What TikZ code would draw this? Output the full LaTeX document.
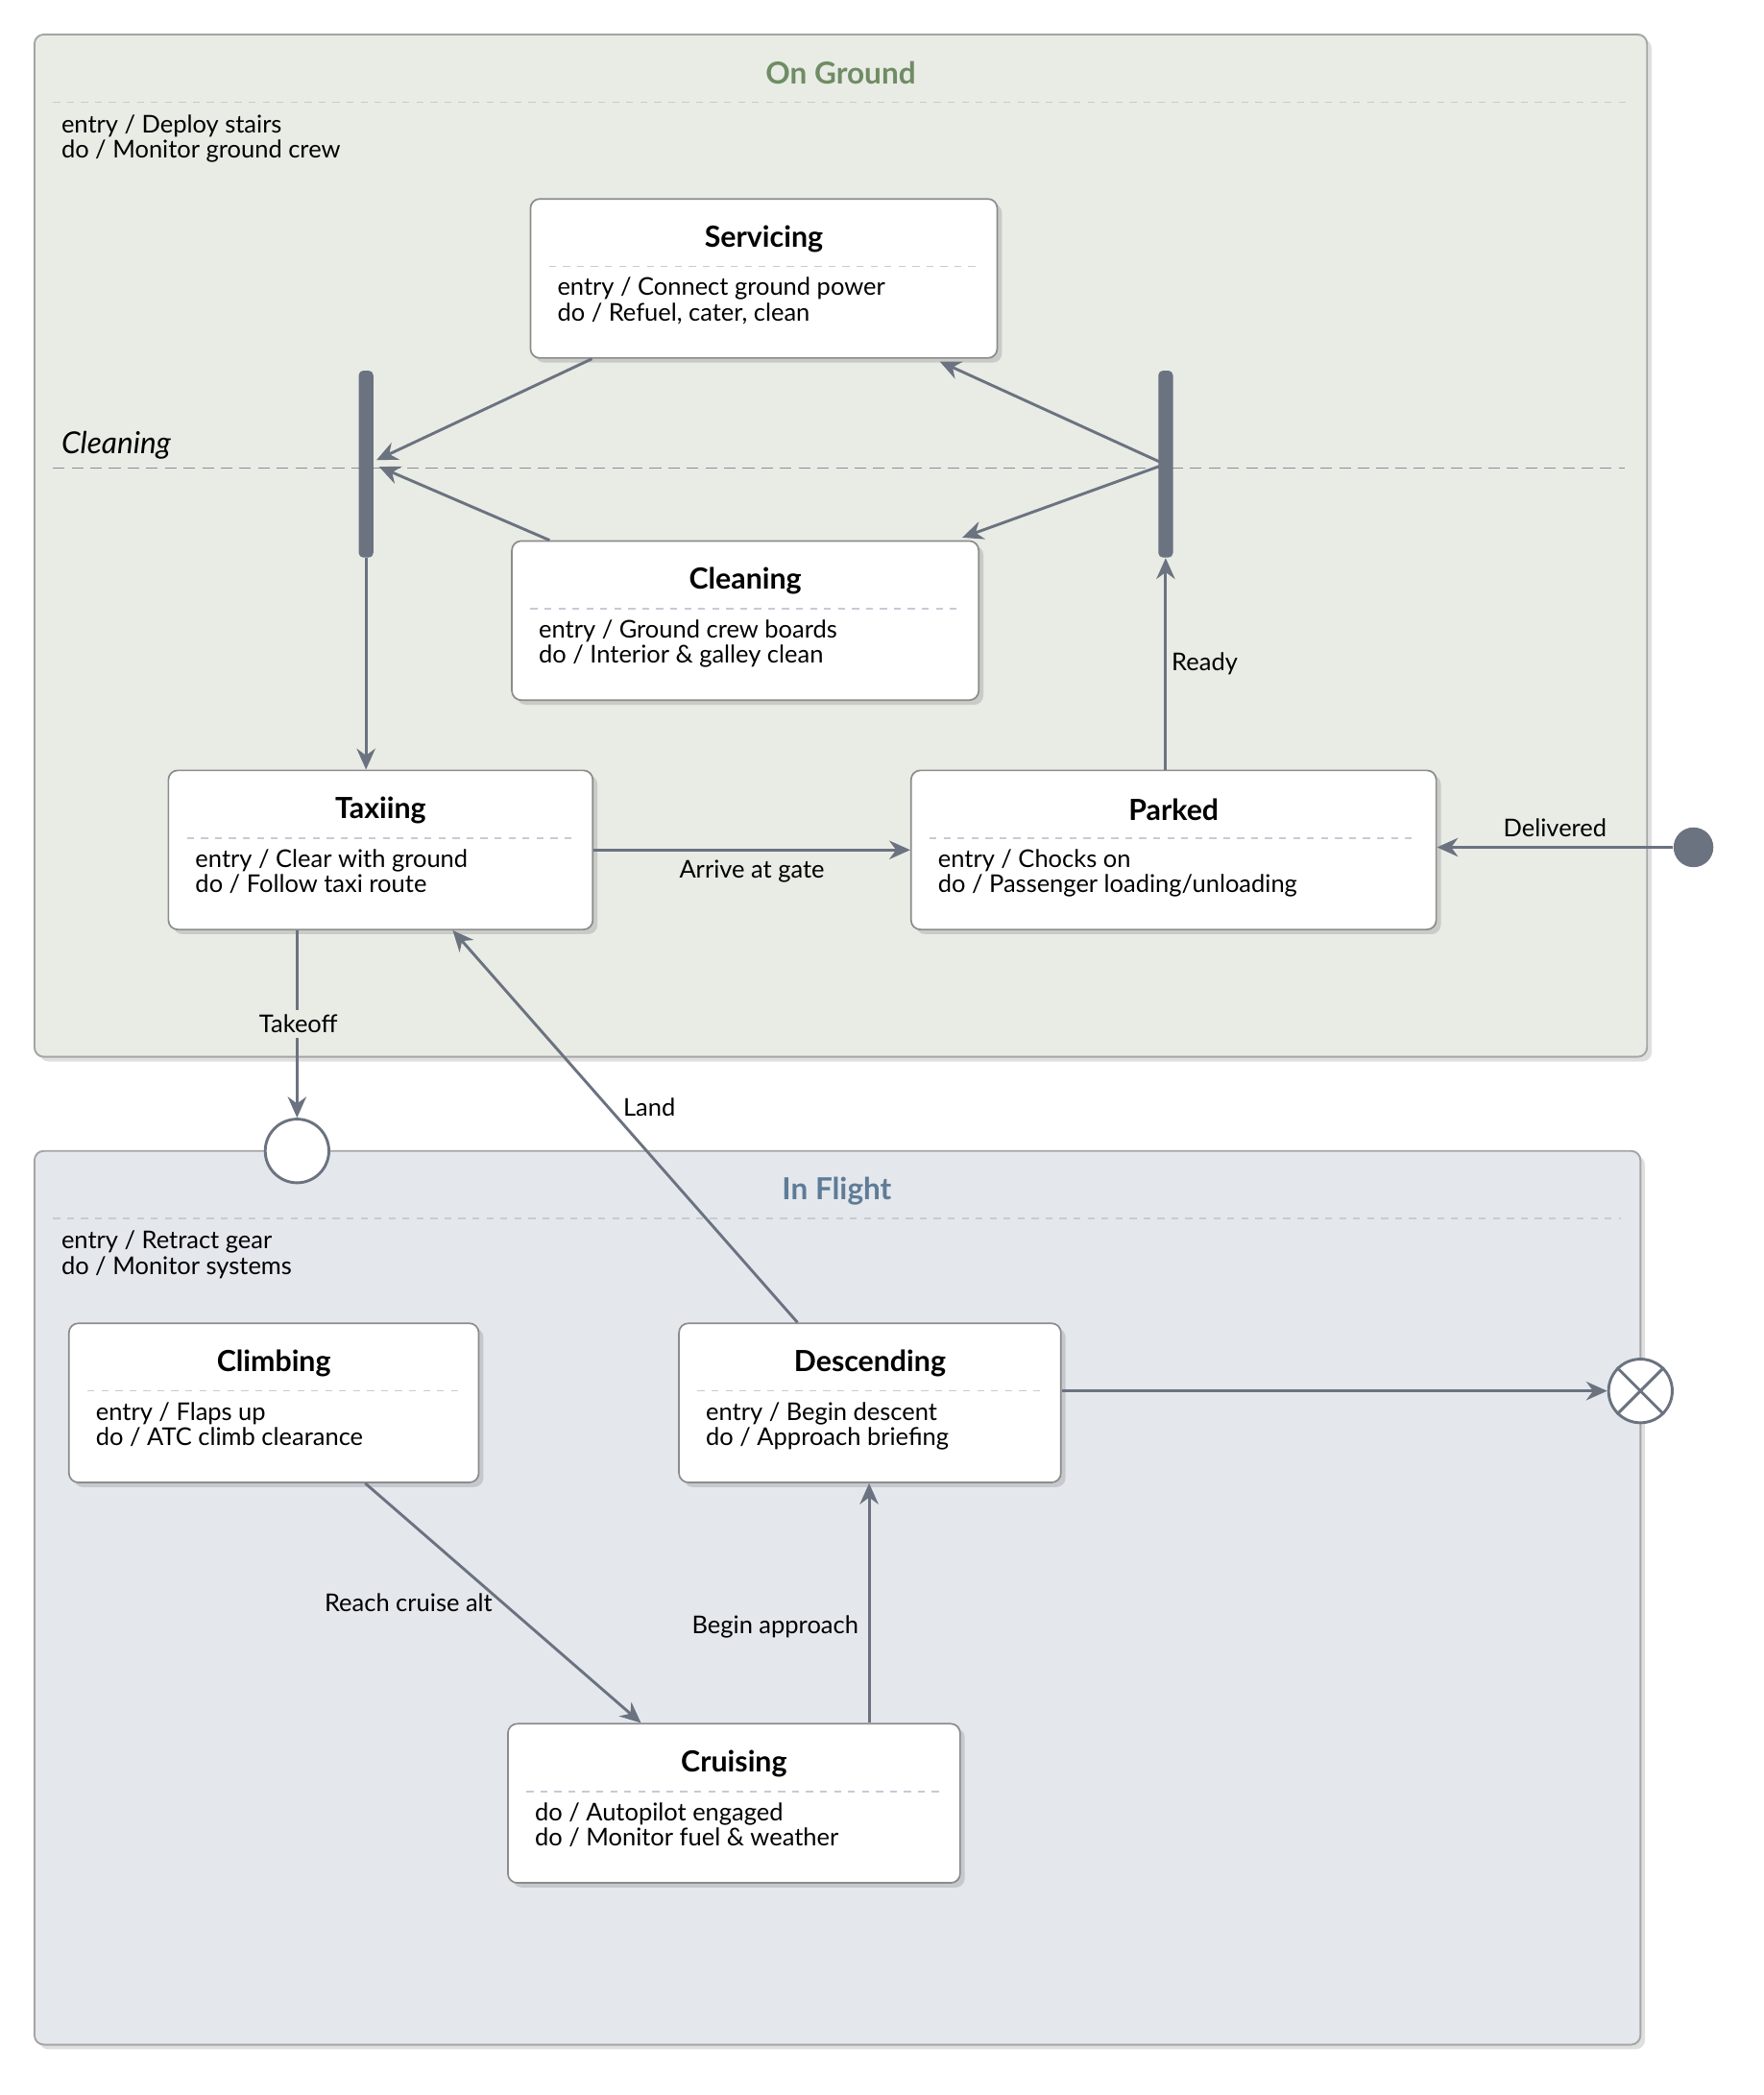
\documentclass[tikz,border=0pt]{standalone}
\usepackage{fontspec}
\setmainfont{Lato}
\usetikzlibrary{arrows.meta,calc,shadows}
\definecolor{edge}{HTML}{6B7280}
\definecolor{groundfill}{HTML}{E8ECE5}
\definecolor{flightfill}{HTML}{E4E8ED}
\definecolor{groundtitle}{HTML}{6F8C64}
\definecolor{flighttitle}{HTML}{5F7C96}
\definecolor{sepline}{HTML}{C5CBD6}
\tikzset{
  region/.style={draw=black!35, line width=0.8pt, rounded corners=4pt, drop shadow={opacity=0.25,shadow xshift=2pt,shadow yshift=-2pt}},
  statebox/.style={draw=black!45, fill=white, line width=0.7pt, rounded corners=4pt, drop shadow={opacity=0.3,shadow xshift=2pt,shadow yshift=-2pt}},
  stitle/.style={font=\fontsize{12.5}{14}\selectfont\bfseries},
  sbody/.style={font=\fontsize{10.5}{10.8}\selectfont, align=left, anchor=north west, inner sep=0pt},
  sep/.style={sepline, dashed, line width=0.6pt},
  bar/.style={fill=edge, draw=none, rounded corners=2pt, minimum width=11*0.02cm, minimum height=141*0.02cm, inner sep=0pt},
  arrow/.style={edge, line width=1.2pt, -{Stealth[length=9pt,width=8pt]}},
  elabel/.style={font=\fontsize{10.5}{12}\selectfont, text=black, inner sep=2pt},
}
% box: name, x1, y1, x2, y2, title, body
\newcommand{\statebox}[7]{%
  \node[statebox, minimum width={(#4-#2)*0.02cm}, minimum height={(#5-#3)*0.02cm}, inner sep=0pt] (#1) at ({(#2+#4)/2},{(#3+#5)/2}) {};
  \node[stitle] (#1-t) at ({(#2+#4)/2},{#3+30}) {#6};
  \draw[sep] ({#2+14},{#3+51}) -- ({#4-14},{#3+51});
  \node[sbody] (#1-b) at ({#2+20},{#3+59}) {#7};
}
\begin{document}
\begin{tikzpicture}[x=0.02cm, y=-0.02cm]
\useasboundingbox (0,0) rectangle (1330,1580);

% On Ground
\draw[region, fill=groundfill] (26,26) rectangle (1242,797);
\node[font=\fontsize{13}{15}\selectfont\bfseries, text=groundtitle] (groundT) at (634,55) {On Ground};
\draw[sep] (40,77) -- (1228,77);
\node[sbody] (groundB) at (46,86) {entry / Deploy stairs\\do / Monitor ground crew};
\node[font=\fontsize{13}{15}\selectfont\itshape, anchor=west, inner sep=0pt] (cleanL) at (46,336) {Cleaning};
\draw[edge!80, line width=0.8pt, dash pattern=on 5pt off 3pt] (40,353) -- (1225,353);

\statebox{serv}{400}{150}{752}{270}{Servicing}{entry / Connect ground power\\do / Refuel, cater, clean}
\statebox{clean}{386}{408}{738}{528}{Cleaning}{entry / Ground crew boards\\do / Interior \& galley clean}
\statebox{taxi}{127}{581}{447}{701}{Taxiing}{entry / Clear with ground\\do / Follow taxi route}
\statebox{park}{687}{581}{1083}{701}{Parked}{entry / Chocks on\\do / Passenger loading/unloading}

\node[bar] (join) at (276,350) {};
\node[bar] (fork) at (879,350) {};
\node[circle, fill=edge, minimum size=30*0.02cm, inner sep=0pt] (init) at (1277,639) {};

% In Flight
\draw[region, fill=flightfill] (26,868) rectangle (1237,1542);
\node[font=\fontsize{13}{15}\selectfont\bfseries, text=flighttitle] (flightT) at (631,898) {In Flight};
\draw[sep] (40,919) -- (1222,919);
\node[sbody] (flightB) at (46,928) {entry / Retract gear\\do / Monitor systems};

\statebox{climb}{52}{998}{361}{1118}{Climbing}{entry / Flaps up\\do / ATC climb clearance}
\statebox{desc}{512}{998}{800}{1118}{Descending}{entry / Begin descent\\do / Approach briefing}
\statebox{cruise}{383}{1300}{724}{1420}{Cruising}{do / Autopilot engaged\\do / Monitor fuel \& weather}

\node[circle, draw=edge, fill=white, line width=1.2pt, minimum size=48*0.02cm, inner sep=0pt] (entryP) at (224,868) {};
\node[circle, draw=edge, fill=white, line width=1.2pt, minimum size=48*0.02cm, inner sep=0pt] (exitP) at (1237,1049) {};
\draw[edge, line width=1.2pt] (exitP.north west) -- (exitP.south east) (exitP.north east) -- (exitP.south west);

% transitions
\draw[arrow] ($(serv.south west)+(47,0)$) -- ($(join.east)+(2,-3)$);
\draw[arrow] ($(clean.north west)+(29,0)$) -- ($(join.east)+(4,2)$);
\draw[arrow] ($(fork.center)+(-3,-1)$) -- ($(serv.south east)+(-44,2)$);
\draw[arrow] ($(fork.center)+(-3,1)$) -- ($(clean.north east)+(-13,-2)$);
\draw[arrow] (join.south) -- (join.south |- taxi.north);
\draw[arrow] (fork.south |- park.north) -- node[elabel, right, pos=0.5] {Ready} (fork.south);
\draw[arrow] (taxi.east) -- node[elabel, below=2pt] {Arrive at gate} (park.west);
\draw[arrow] (init) -- node[elabel, above=2pt] {Delivered} (park.east |- init);
\draw[arrow] (taxi.south -| entryP) -- node[elabel, pos=0.5, left=-20pt, fill=groundfill] {Takeoff} (entryP.north);
\draw[arrow] ($(desc.north west)+(90,0)$) -- node[elabel, pos=0.55, right=4pt] {Land} ($(taxi.south west)+(215,0)$);
\draw[arrow] (desc.east |- exitP) -- (exitP.west);
\draw[arrow] ($(climb.south west)+(224,0)$) -- node[elabel, pos=0.5, left=2pt] {Reach cruise alt} ($(cruise.north west)+(101,0)$);
\draw[arrow] ($(cruise.north west)+(273,0)$) -- node[elabel, pos=0.4, left=2pt] {Begin approach} ($(desc.south west)+(144,0)$);
\end{tikzpicture}
\end{document}
